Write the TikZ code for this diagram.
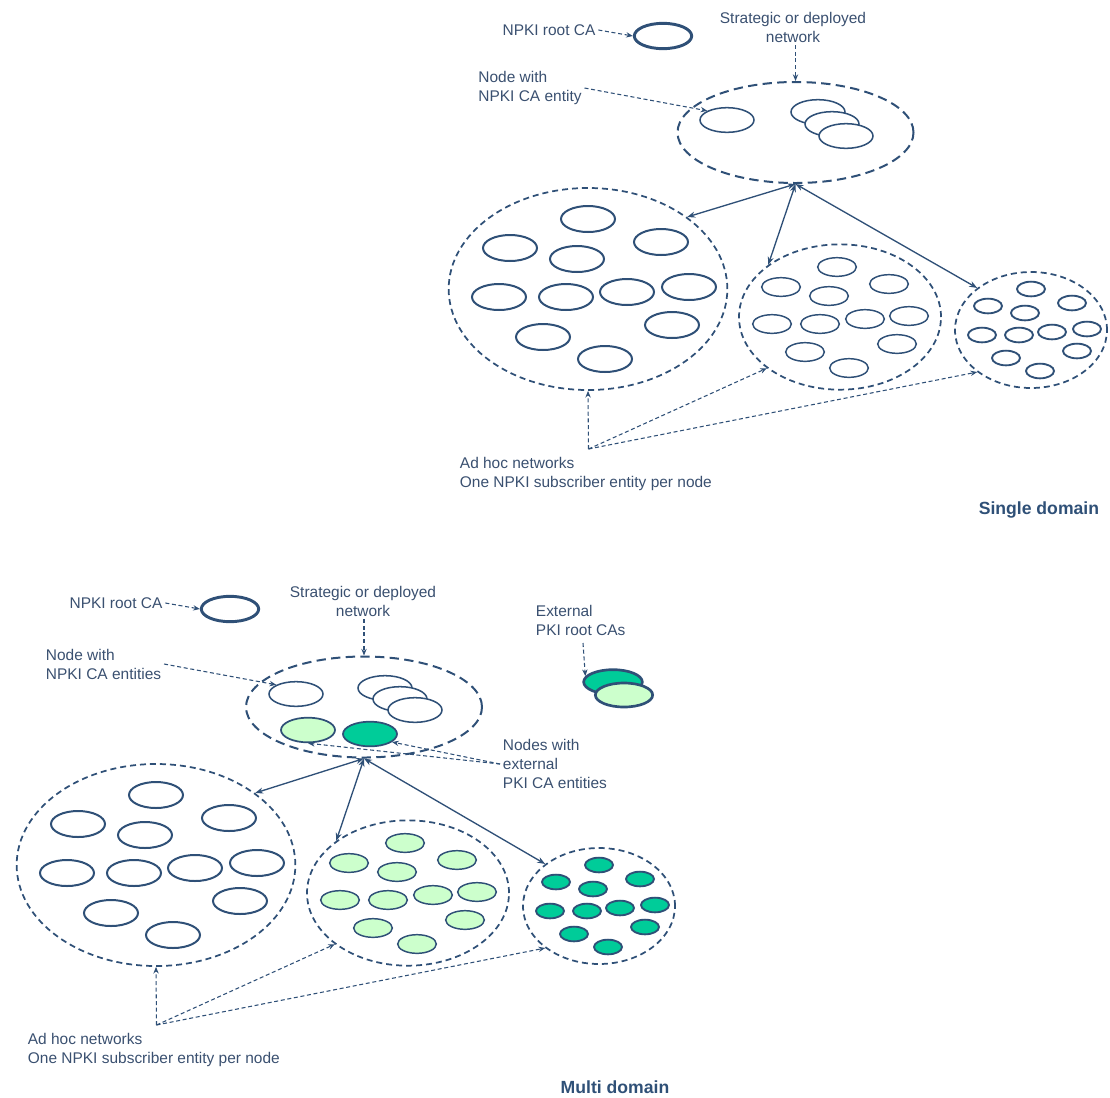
\documentclass[tikz,border=0pt]{standalone}
\usepackage{fontspec}
\setmainfont{Liberation Sans}
\usetikzlibrary{shapes.geometric,arrows.meta}

\definecolor{ink}{HTML}{2F5077}
\definecolor{txt}{HTML}{3A5070}
\definecolor{paleg}{HTML}{CCFFCC}
\definecolor{deepg}{HTML}{00CC99}

\tikzset{
  lbl/.style={font=\fontsize{11.6}{14.25}\selectfont, text=txt, align=left, inner sep=2pt},
  ctrlbl/.style={lbl, align=center},
  title/.style={font=\fontsize{13.2}{16}\selectfont\bfseries, text=ink, inner sep=2pt},
  rootca/.style={ellipse, draw=ink, line width=2.2pt, fill=white, inner sep=0pt,
    minimum width=43pt, minimum height=19pt},
  canode/.style={ellipse, draw=ink, line width=1.15pt, fill=white, inner sep=0pt,
    minimum width=40.5pt, minimum height=18.5pt},
  hostL/.style={ellipse, draw=ink, line width=1.5pt, fill=white, inner sep=0pt,
    minimum width=40.5pt, minimum height=19.5pt},
  hostM/.style={ellipse, draw=ink, line width=1.1pt, inner sep=0pt,
    minimum width=29pt, minimum height=14pt},
  hostR/.style={ellipse, draw=ink, line width=1.4pt, inner sep=0pt,
    minimum width=21pt, minimum height=11pt},
  netring/.style={ellipse, draw=ink, line width=1.3pt, dash pattern=on 4.5pt off 3pt,
    inner sep=0pt},
  stratring/.style={ellipse, draw=ink, line width=1.5pt, dash pattern=on 7pt off 4pt,
    inner sep=0pt, minimum width=177pt, minimum height=75.75pt},
  link/.style={draw=ink, line width=1pt,
    {Stealth[length=6pt,width=4.5pt]}-{Stealth[length=6pt,width=4.5pt]}},
  pointer/.style={draw=ink, line width=0.8pt, dash pattern=on 3pt off 2pt,
    -{Stealth[length=5pt,width=4pt]}},
}

% The three ad hoc networks with their hosts and the note pointing at them.
% #1 name prefix, #2 shift, #3 fill of the middle network's hosts,
% #4 fill of the right network's hosts
\newcommand\adhocnets[4]{%
\begin{scope}[shift={#2}, name prefix=#1-]
  \node[netring, minimum width=209pt, minimum height=151.5pt] (L) at (588,289) {};
  \node[netring, minimum width=151.5pt, minimum height=109pt] (M) at (840,317) {};
  \node[netring, minimum width=114pt, minimum height=87pt] (R) at (1031,330) {};
  \foreach \pos [count=\i] in {(588,219),(510,248),(661,242),(577,259),(499,297),(566,297),
      (627,292),(689,287),(543,337),(672,325),(605,359)}
    \node[hostL] (l\i) at \pos {};
  \foreach \pos [count=\i] in {(837,267),(781,287),(829,296),(889,284),(772,324),(820,324),
      (865,319),(909,316),(805,352),(897,344),(849,368)}
    \node[hostM, fill=#3] (m\i) at \pos {};
  \foreach \pos [count=\i] in {(1031,289),(988,306),(1072,303),(1025,313),(982,335),(1019,335),
      (1052,332),(1087,329),(1006,358),(1077,351),(1040,371)}
    \node[hostR, fill=#4] (r\i) at \pos {};
  \coordinate (src) at (588.5,449);
  \draw[pointer] (src) -- (L.south);
  \draw[pointer] (src) -- (M.215);
  \draw[pointer] (src) -- (R.218);
  \node[lbl, anchor=west] (note) at (457,474)
    {Ad hoc networks\\One NPKI subscriber entity per node};
\end{scope}}

\begin{document}
\begin{tikzpicture}[x=0.75pt, y=-0.75pt]
\useasboundingbox (0,0) rectangle (1110,1097);

% ---------------- Single domain ----------------
\node[lbl] (sRootLbl) at (549,30) {NPKI root CA};
\node[rootca] (sRoot) at (663,36) {};
\draw[pointer] (sRootLbl.east) -- (sRoot.west);

\node[ctrlbl] (sStratLbl) at (793,27) {Strategic or deployed\\network};
\node[stratring] (sStrat) at (795.5,132.5) {};
\draw[pointer] (sStratLbl.south -| sStrat.north) -- (sStrat.north);

\node[canode] (sCa) at (727,120) {};
\node[canode] (sCaA) at (818,112) {};
\node[canode] (sCaB) at (832,124) {};
\node[canode] (sCaC) at (846,136) {};
\node[lbl, anchor=west] (sCaLbl) at (475.5,88) {Node with\\NPKI CA entity};
\draw[pointer] (sCaLbl.east) -- (sCa.155);

\adhocnets{s}{(0,0)}{white}{white}
\draw[link] (sStrat.south) -- (s-L.36);
\draw[link] (sStrat.south) -- (s-M.144);
\draw[link] (sStrat.south) -- (s-R.142);

\node[title, anchor=east] (sTitle) at (1102,510) {Single domain};

% ---------------- Multi domain ----------------
\node[lbl] (mRootLbl) at (116,603) {NPKI root CA};
\node[rootca] (mRoot) at (230,609) {};
\draw[pointer] (mRootLbl.east) -- (mRoot.west);

\node[ctrlbl] (mStratLbl) at (363,601) {Strategic or deployed\\network};
\node[stratring] (mStrat) at (364,707) {};
\draw[pointer] (mStratLbl.south -| mStrat.north) -- (mStrat.north);

\node[canode] (mCa) at (296,694) {};
\node[canode] (mCaA) at (385,688) {};
\node[canode] (mCaB) at (400,699) {};
\node[canode] (mCaC) at (415,710) {};
\node[canode, fill=paleg, line width=1.3pt] (mExtA) at (308,730) {};
\node[canode, fill=deepg, line width=1.3pt] (mExtB) at (370,734) {};
\node[lbl, anchor=west] (mCaLbl) at (43,664) {Node with\\NPKI CA entities};
\draw[pointer] (mCaLbl.east) -- (mCa.155);

\node[lbl, anchor=west] (mExtLbl) at (500,764) {Nodes with\\external\\PKI CA entities};
\draw[pointer] (mExtLbl.west) -- (mExtA.south);
\draw[pointer] (mExtLbl.west) -- (mExtB.-20);

\node[lbl, anchor=west] (mXLbl) at (533,620) {External\\PKI root CAs};
\node[rootca, fill=deepg, line width=2pt, minimum width=44pt, minimum height=18.5pt] (mXA) at (613,682) {};
\node[rootca, fill=paleg, line width=2pt, minimum width=43pt, minimum height=18pt] (mXB) at (624,695) {};
\coordinate (mXsrc) at (583,643);
\draw[pointer] (mXsrc) -- (mXA.168);

\adhocnets{m}{(-432,576)}{paleg}{deepg}
\draw[link] (mStrat.south) -- (m-L.36);
\draw[link] (mStrat.south) -- (m-M.144);
\draw[link] (mStrat.south) -- (m-R.142);

\node[title] (mTitle) at (615,1087) {Multi domain};
\end{tikzpicture}
\end{document}
